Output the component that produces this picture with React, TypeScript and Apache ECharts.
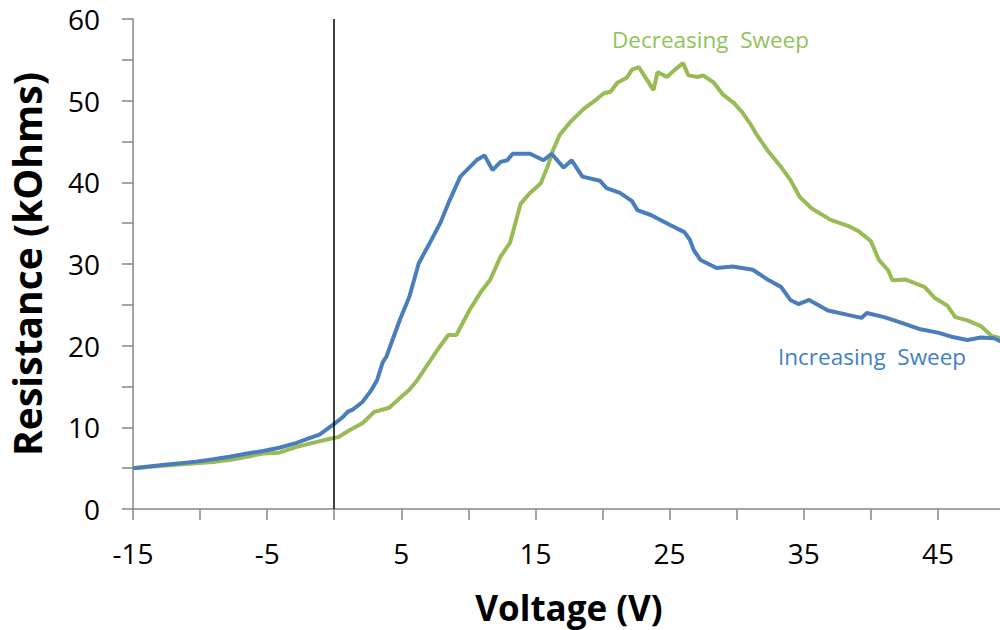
import React, { useEffect, useRef } from "react";
import * as echarts from "echarts";

// Increasing sweep: voltage (V) and resistance (kOhms)
const incVoltage = [
  -15, -12.8, -10.3, -9, -7.8, -6.5, -5.3, -4.1, -2.8, -1.8, -1.1, -0.1, 0.6, 1.0, 1.4, 2.1, 2.7, 3.2, 3.6, 3.9,
  4.9, 5.6, 6.3, 7.1, 7.9, 8.6, 9.4, 10.6, 11.2, 11.8, 12.4, 12.9, 13.3, 14.6, 15.6, 16.2, 17.1, 17.7, 18.5,
  19.8, 20.3, 21.3, 22.2, 22.6, 23.6, 25.0, 26.1, 26.5, 26.8, 27.3, 28.5, 29.7, 31.2, 32.4, 33.3, 34.0, 34.6,
  35.4, 36.8, 38.2, 39.3, 39.7, 41.0, 42.3, 43.7, 45.0, 46.0, 47.2, 48.2, 49.2, 49.7,
];
const incResistance = [
  5.0, 5.4, 5.8, 6.1, 6.4, 6.8, 7.1, 7.5, 8.1, 8.7, 9.1, 10.3, 11.2, 11.9, 12.2, 13.1, 14.4, 15.8, 17.9, 18.7,
  23.2, 26.0, 30.1, 32.5, 35.0, 37.8, 40.7, 42.7, 43.3, 41.5, 42.5, 42.7, 43.5, 43.5, 42.7, 43.5, 41.8, 42.7, 40.7,
  40.2, 39.3, 38.7, 37.7, 36.6, 36.0, 34.8, 33.9, 33.0, 31.7, 30.5, 29.5, 29.7, 29.3, 28.0, 27.2, 25.6, 25.1,
  25.6, 24.3, 23.8, 23.4, 24.0, 23.5, 22.8, 22.0, 21.6, 21.1, 20.7, 21.0, 20.9, 20.5,
];

// Decreasing sweep: voltage (V) and resistance (kOhms)
const decVoltage = [
  -15, -12.8, -10.3, -8.8, -7.8, -6.5, -5.3, -4.1, -2.8, -1.6, -0.3, 0.3, 1.2, 2.1, 3.0, 4.1, 4.9, 5.6, 6.2,
  7.7, 8.5, 9.1, 10.1, 10.9, 11.6, 12.4, 13.1, 13.5, 13.9, 14.6, 15.4, 15.9, 16.3, 16.8, 17.6, 18.6, 19.5,
  20.1, 20.6, 21.1, 21.8, 22.2, 22.7, 23.1, 23.8, 24.1, 24.8, 25.4, 26.0, 26.4, 27.1, 27.5, 28.3, 29.0, 29.8,
  30.4, 31.0, 31.5, 32.3, 33.3, 34.0, 34.7, 35.6, 37.0, 38.4, 39.1, 40.0, 40.6, 41.3, 41.6, 42.6, 44.0, 44.8,
  45.7, 46.3, 47.2, 48.2, 49.0, 49.7,
];
const decResistance = [
  5.0, 5.3, 5.6, 5.8, 6.0, 6.4, 6.8, 6.9, 7.6, 8.1, 8.6, 8.8, 9.7, 10.5, 11.9, 12.4, 13.6, 14.6, 15.8,
  19.5, 21.3, 21.3, 24.4, 26.5, 28.0, 30.9, 32.6, 35.0, 37.4, 38.7, 39.9, 41.9, 43.9, 45.8, 47.4, 49.0, 50.1,
  50.9, 51.1, 52.2, 52.8, 53.8, 54.1, 53.1, 51.3, 53.5, 52.9, 53.8, 54.6, 53.1, 52.9, 53.1, 52.2, 50.7, 49.7,
  48.6, 47.2, 45.8, 43.9, 41.9, 40.3, 38.2, 36.8, 35.4, 34.6, 34.0, 32.8, 30.5, 29.2, 28.0, 28.1, 27.2, 25.8,
  24.9, 23.5, 23.1, 22.4, 21.2, 20.9,
];

const seriesNames = ["Increasing Sweep", "Decreasing Sweep"];
const xTitle = "Voltage (V)";
const yTitle = "Resistance (kOhms)";

const BLUE = "#4a7ebb";
const GREEN = "#98bb55";
const AXIS_GRAY = "#868686";
const FONT = "'Open Sans', 'Noto Sans', sans-serif";

const zip = (xs: number[], ys: number[]) => xs.map((x, i) => [x, ys[i]]);

export default function App() {
  const ref = useRef<HTMLDivElement>(null);

  useEffect(() => {
    if (!ref.current) return;
    const chart = echarts.init(ref.current, null, { renderer: "svg" });
    chart.setOption({
      animation: false,
      backgroundColor: "#ffffff",
      grid: { left: 133, right: -5, top: 19, bottom: 121, outerBoundsMode: "none", containLabel: false },
      xAxis: {
        type: "value",
        min: -15,
        max: 50,
        interval: 5,
        name: xTitle,
        nameLocation: "middle",
        nameGap: 80,
        nameTextStyle: { fontFamily: FONT, fontSize: 35, fontWeight: "bold", color: "#000", lineHeight: 37 },
        axisLine: { show: true, onZero: false, lineStyle: { color: AXIS_GRAY, width: 1.5 } },
        axisTick: { show: true, inside: false, length: 11, lineStyle: { color: AXIS_GRAY, width: 1.5 } },
        splitLine: { show: false },
        axisLabel: {
          margin: 30,
          fontFamily: FONT,
          fontSize: 28,
          color: "#000",
          formatter: (v: number) => ((v + 15) % 10 === 0 ? String(v) : ""),
        },
      },
      yAxis: {
        type: "value",
        min: 0,
        max: 60,
        interval: 5,
        name: yTitle,
        nameLocation: "middle",
        nameGap: 86,
        nameTextStyle: { fontFamily: FONT, fontSize: 39, fontWeight: "bold", color: "#000", lineHeight: 41 },
        axisLine: { show: true, onZero: false, lineStyle: { color: AXIS_GRAY, width: 1.5 } },
        axisTick: { show: true, inside: false, length: 11, lineStyle: { color: AXIS_GRAY, width: 1.5 } },
        splitLine: { show: false },
        axisLabel: {
          margin: 33,
          fontFamily: FONT,
          fontSize: 28,
          color: "#000",
          formatter: (v: number) => (v % 10 === 0 ? String(v) : ""),
        },
      },
      series: [
        {
          name: seriesNames[0],
          type: "line",
          data: zip(incVoltage, incResistance),
          showSymbol: false,
          lineStyle: { color: BLUE, width: 4 },
          itemStyle: { color: BLUE },
          z: 3,
          markLine: {
            silent: true,
            symbol: "none",
            label: { show: false },
            lineStyle: { color: "#000", width: 1.5, type: "solid" },
            data: [{ xAxis: 0 }],
          },
        },
        {
          name: seriesNames[1],
          type: "line",
          data: zip(decVoltage, decResistance),
          showSymbol: false,
          lineStyle: { color: GREEN, width: 4 },
          itemStyle: { color: GREEN },
          z: 2,
        },
      ],
      graphic: [
        {
          type: "text",
          left: 612,
          top: 28,
          style: { text: "Decreasing  Sweep", fontFamily: FONT, fontSize: 22.5, fill: "#92c35a" },
        },
        {
          type: "text",
          left: 778,
          top: 345,
          style: { text: "Increasing  Sweep", fontFamily: FONT, fontSize: 22.5, fill: "#3f7fc6" },
        },
      ],
    });
    return () => chart.dispose();
  }, []);

  return (
    <div
      ref={ref}
      style={{ position: "absolute", left: 0, top: 0, width: 1000, height: 630 }}
    />
  );
}
